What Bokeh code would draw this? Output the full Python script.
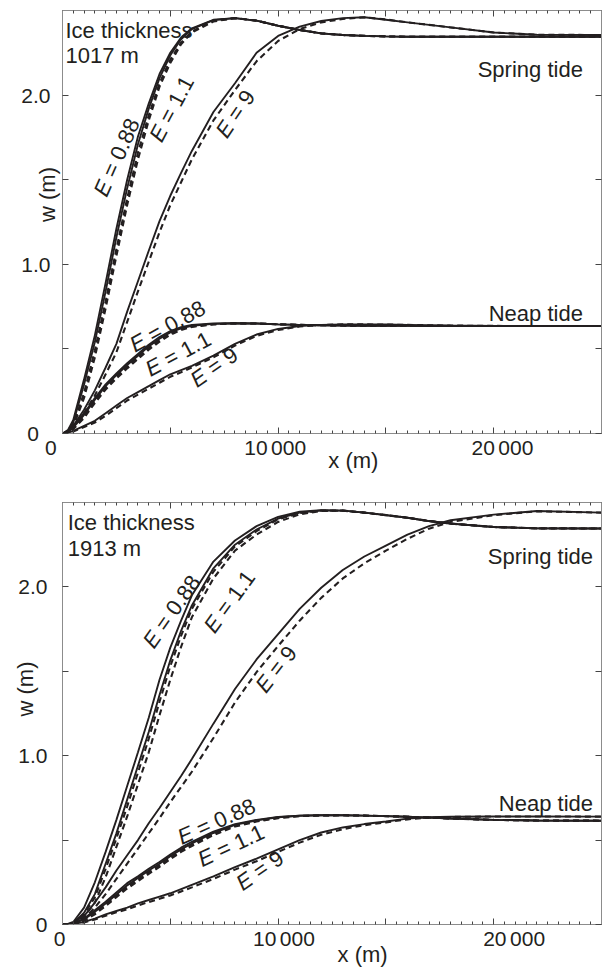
import math
import json
from bokeh.plotting import figure
from bokeh.layouts import column
from bokeh.models import FixedTicker, CustomJSTickFormatter, LinearAxis, Range1d
from bokeh.core.properties import value
from bokeh.embed import file_html
from bokeh.resources import INLINE

# ---------------- data ----------------
X = [0, 250, 500, 1000, 1500, 2000, 2500, 3000, 3500, 4000, 4500, 5000, 5500, 6000,
     7000, 8000, 9000, 10000, 11000, 12000, 13000, 14000, 15000, 16000, 17000, 18000,
     20000, 22000, 25000]

# Ice thickness 1017 m
t_sp_088_s = [0, 0.02, 0.08, 0.32, 0.58, 0.89, 1.21, 1.50, 1.755, 1.95, 2.125, 2.25, 2.34, 2.395, 2.445, 2.455, 2.44, 2.41, 2.385, 2.365, 2.355, 2.35, 2.347, 2.345, 2.345, 2.345, 2.345, 2.345, 2.345]
t_sp_11_s = [0, 0.015, 0.065, 0.29, 0.54, 0.84, 1.16, 1.45, 1.71, 1.92, 2.10, 2.235, 2.33, 2.39, 2.443, 2.455, 2.44, 2.41, 2.385, 2.365, 2.355, 2.35, 2.347, 2.345, 2.345, 2.345, 2.345, 2.345, 2.345]
t_sp_088_d = [0, 0.01, 0.05, 0.24, 0.49, 0.78, 1.09, 1.39, 1.66, 1.88, 2.07, 2.21, 2.31, 2.375, 2.44, 2.455, 2.44, 2.41, 2.385, 2.365, 2.355, 2.35, 2.347, 2.345, 2.345, 2.345, 2.345, 2.345, 2.345]
t_sp_11_d = [0, 0.008, 0.04, 0.21, 0.45, 0.74, 1.05, 1.35, 1.62, 1.85, 2.05, 2.19, 2.30, 2.37, 2.435, 2.455, 2.44, 2.41, 2.385, 2.365, 2.355, 2.35, 2.347, 2.345, 2.345, 2.345, 2.345, 2.345, 2.345]
t_sp_9_s = [0, 0.01, 0.045, 0.14, 0.255, 0.39, 0.53, 0.72, 0.9, 1.08, 1.255, 1.405, 1.54, 1.67, 1.90, 2.07, 2.25, 2.35, 2.405, 2.438, 2.455, 2.46, 2.445, 2.43, 2.415, 2.40, 2.37, 2.357, 2.355]
t_sp_9_d = [0, 0.007, 0.035, 0.12, 0.225, 0.35, 0.48, 0.66, 0.84, 1.015, 1.19, 1.35, 1.485, 1.62, 1.85, 2.03, 2.20, 2.32, 2.39, 2.43, 2.45, 2.46, 2.447, 2.43, 2.415, 2.40, 2.37, 2.357, 2.355]
t_np_088_s = [0, 0.01, 0.04, 0.12, 0.21, 0.29, 0.355, 0.415, 0.47, 0.525, 0.57, 0.605, 0.628, 0.641, 0.65, 0.652, 0.65, 0.645, 0.642, 0.64, 0.638, 0.637, 0.636, 0.636, 0.635, 0.635, 0.635, 0.635, 0.635]
t_np_11_s = [0, 0.008, 0.035, 0.11, 0.2, 0.28, 0.345, 0.405, 0.46, 0.515, 0.56, 0.597, 0.622, 0.637, 0.648, 0.652, 0.65, 0.645, 0.642, 0.64, 0.638, 0.637, 0.636, 0.636, 0.635, 0.635, 0.635, 0.635, 0.635]
t_np_088_d = [0, 0.006, 0.03, 0.10, 0.19, 0.27, 0.335, 0.395, 0.45, 0.505, 0.552, 0.59, 0.617, 0.633, 0.646, 0.651, 0.65, 0.645, 0.642, 0.64, 0.638, 0.637, 0.636, 0.636, 0.635, 0.635, 0.635, 0.635, 0.635]
t_np_11_d = [0, 0.005, 0.026, 0.092, 0.18, 0.26, 0.325, 0.385, 0.44, 0.495, 0.543, 0.583, 0.612, 0.63, 0.645, 0.651, 0.65, 0.645, 0.642, 0.64, 0.638, 0.637, 0.636, 0.636, 0.635, 0.635, 0.635, 0.635, 0.635]
t_np_9_s = [0, 0.004, 0.015, 0.045, 0.075, 0.12, 0.165, 0.21, 0.245, 0.28, 0.315, 0.35, 0.375, 0.40, 0.46, 0.53, 0.585, 0.618, 0.635, 0.642, 0.645, 0.645, 0.644, 0.642, 0.64, 0.638, 0.636, 0.635, 0.635]
t_np_9_d = [0, 0.003, 0.012, 0.038, 0.065, 0.105, 0.15, 0.195, 0.23, 0.265, 0.30, 0.335, 0.362, 0.39, 0.45, 0.52, 0.577, 0.612, 0.632, 0.641, 0.645, 0.645, 0.644, 0.642, 0.64, 0.638, 0.636, 0.635, 0.635]

# Ice thickness 1913 m
b_sp_088_s = [0, 0.003, 0.015, 0.1, 0.25, 0.43, 0.62, 0.82, 1.02, 1.225, 1.45, 1.64, 1.8, 1.95, 2.15, 2.275, 2.36, 2.415, 2.445, 2.455, 2.452, 2.44, 2.425, 2.41, 2.39, 2.375, 2.355, 2.347, 2.346]
b_sp_11_s = [0, 0.001, 0.008, 0.07, 0.18, 0.36, 0.54, 0.74, 0.94, 1.14, 1.36, 1.565, 1.74, 1.89, 2.11, 2.25, 2.34, 2.405, 2.44, 2.453, 2.452, 2.44, 2.425, 2.41, 2.39, 2.375, 2.355, 2.347, 2.346]
b_sp_088_d = [0, 0.0, 0.005, 0.06, 0.16, 0.33, 0.51, 0.70, 0.90, 1.1, 1.32, 1.53, 1.71, 1.87, 2.09, 2.24, 2.33, 2.40, 2.437, 2.452, 2.452, 2.44, 2.425, 2.41, 2.39, 2.375, 2.355, 2.347, 2.346]
b_sp_11_d = [0, 0.0, 0.003, 0.045, 0.13, 0.28, 0.46, 0.64, 0.83, 1.02, 1.24, 1.45, 1.645, 1.82, 2.05, 2.215, 2.31, 2.385, 2.43, 2.45, 2.452, 2.44, 2.425, 2.41, 2.39, 2.375, 2.355, 2.347, 2.346]
b_sp_9_s = [0, 0.002, 0.01, 0.05, 0.13, 0.22, 0.32, 0.41, 0.5, 0.6, 0.69, 0.785, 0.88, 0.98, 1.19, 1.395, 1.57, 1.72, 1.87, 1.995, 2.10, 2.18, 2.245, 2.31, 2.36, 2.395, 2.428, 2.45, 2.44]
b_sp_9_d = [0, 0.001, 0.006, 0.035, 0.10, 0.18, 0.27, 0.36, 0.45, 0.54, 0.63, 0.725, 0.815, 0.905, 1.105, 1.315, 1.495, 1.65, 1.80, 1.935, 2.05, 2.14, 2.215, 2.285, 2.345, 2.385, 2.425, 2.448, 2.44]
b_np_088_s = [0, 0.001, 0.006, 0.035, 0.085, 0.135, 0.19, 0.245, 0.285, 0.33, 0.37, 0.415, 0.455, 0.49, 0.55, 0.595, 0.62, 0.637, 0.645, 0.647, 0.647, 0.645, 0.642, 0.638, 0.633, 0.628, 0.62, 0.616, 0.615]
b_np_11_s = [0, 0.001, 0.005, 0.03, 0.075, 0.125, 0.178, 0.232, 0.275, 0.32, 0.36, 0.405, 0.445, 0.48, 0.542, 0.59, 0.617, 0.635, 0.644, 0.647, 0.647, 0.645, 0.642, 0.638, 0.633, 0.628, 0.62, 0.616, 0.615]
b_np_088_d = [0, 0.0, 0.004, 0.026, 0.068, 0.118, 0.17, 0.222, 0.265, 0.31, 0.35, 0.395, 0.437, 0.472, 0.536, 0.585, 0.614, 0.633, 0.643, 0.646, 0.647, 0.645, 0.642, 0.638, 0.633, 0.628, 0.62, 0.616, 0.615]
b_np_11_d = [0, 0.0, 0.003, 0.022, 0.06, 0.11, 0.162, 0.213, 0.257, 0.30, 0.342, 0.387, 0.43, 0.465, 0.53, 0.58, 0.61, 0.63, 0.642, 0.646, 0.647, 0.645, 0.642, 0.638, 0.633, 0.628, 0.62, 0.616, 0.615]
b_np_9_s = [0, 0.001, 0.004, 0.015, 0.035, 0.06, 0.08, 0.1, 0.125, 0.145, 0.165, 0.185, 0.21, 0.235, 0.285, 0.34, 0.39, 0.445, 0.50, 0.545, 0.575, 0.595, 0.61, 0.627, 0.635, 0.638, 0.64, 0.64, 0.639]
b_np_9_d = [0, 0.0, 0.003, 0.012, 0.03, 0.052, 0.072, 0.09, 0.113, 0.133, 0.152, 0.172, 0.196, 0.22, 0.27, 0.325, 0.375, 0.43, 0.485, 0.532, 0.565, 0.588, 0.605, 0.623, 0.633, 0.637, 0.64, 0.64, 0.639]

X_MAJOR = [0, 5000, 10000, 15000, 20000, 25000]
X_MINOR = [500 * i for i in range(1, 50) if i % 10 != 0]
Y_MAJOR = [0, 0.5, 1.0, 1.5, 2.0]
X_TICK_TEXT = {0: "0", 10000: "10\u2006000", 20000: "20\u2006000"}

FONT = "Liberation Sans"
INK = "#231f20"
FRAME = "#8c8c8c"
FS = "\u2007"   # figure space (digit wide)
PS = "\u2008"   # punctuation space

CW = {"E": 0.667, " ": 0.278, "=": 0.584, ".": 0.278}


def tw(s, fs):
    return sum(CW.get(c, 0.556) for c in s) * fs


def elabel(p, x, y, num, deg, fs=22):
    th = math.radians(deg)
    a = tw("E", fs)
    sp = tw(" ", fs)
    rest = "= " + num
    r = tw(rest, fs)
    L = a + sp + r
    dA = -L / 2 + a / 2
    dR = L / 2 - r / 2
    c, s = math.cos(th), math.sin(th)
    common = dict(angle=th, text_align="center", text_baseline="middle",
                  text_font=value(FONT), text_font_size=f"{fs}px", text_color=INK)
    p.text(x=[x], y=[y], text=["E"], x_offset=dA * c, y_offset=-dA * s,
           text_font_style="italic", **common)
    p.text(x=[x], y=[y], text=[rest], x_offset=dR * c, y_offset=-dR * s, **common)


def ytick_fmt(zero):
    return CustomJSTickFormatter(code="""
        if (Math.abs(tick) < 1e-9) return '%s';
        if (Math.abs(tick - Math.round(tick)) < 1e-9) return tick.toFixed(1);
        return '';""" % zero)


def xtick_fmt(pads):
    # pads: (leading, trailing) padding per labelled tick, to nudge labels like the original
    m = {str(k): pads[k][0] + t + pads[k][1] for k, t in X_TICK_TEXT.items()}
    return CustomJSTickFormatter(code="""
        const m = %s;
        const k = String(Math.round(tick));
        return (k in m) ? m[k] : '';""" % json.dumps(m))


def style_axis(ax, label_size="21px", standoff=2):
    ax.axis_line_color = FRAME
    ax.major_tick_line_color = "#444444"
    ax.minor_tick_line_color = "#444444"
    ax.major_tick_in = 6
    ax.major_tick_out = 0
    ax.minor_tick_in = 3
    ax.minor_tick_out = 0
    ax.major_label_text_font = FONT
    ax.major_label_text_font_size = label_size
    ax.major_label_text_color = INK
    ax.major_label_standoff = standoff


def panel(width, height, borders, curves, elabels, texts, ystand, yzero, xpads, xlab, ylab):
    p = figure(width=width, height=height, x_range=Range1d(0, 25000), y_range=Range1d(0, 2.5),
               output_backend="svg", toolbar_location=None,
               x_axis_type=None, y_axis_type=None,
               min_border_left=borders[0], min_border_right=borders[1],
               min_border_top=borders[2], min_border_bottom=borders[3])
    p.grid.visible = False
    p.outline_line_color = FRAME
    p.background_fill_color = "white"
    p.border_fill_color = "white"

    xt = FixedTicker(ticks=X_MAJOR, minor_ticks=X_MINOR)
    yt = FixedTicker(ticks=Y_MAJOR)

    bx = LinearAxis(ticker=xt, formatter=xtick_fmt(xpads))
    style_axis(bx, standoff=2)
    bx.axis_label = xlab[0]
    bx.axis_label_standoff = xlab[1]
    bx.axis_label_text_font = FONT
    bx.axis_label_text_font_size = "22px"
    bx.axis_label_text_font_style = "normal"
    bx.axis_label_text_color = INK
    p.add_layout(bx, "below")

    ly = LinearAxis(ticker=yt, formatter=ytick_fmt(yzero))
    style_axis(ly, standoff=ystand)
    ly.minor_tick_in = 0
    ly.axis_label = ylab[0]
    ly.axis_label_standoff = ylab[1]
    ly.axis_label_text_font = FONT
    ly.axis_label_text_font_size = "22px"
    ly.axis_label_text_font_style = "normal"
    ly.axis_label_text_color = INK
    p.add_layout(ly, "left")

    tx = LinearAxis(ticker=xt, formatter=CustomJSTickFormatter(code="return '';"))
    style_axis(tx, label_size="1px", standoff=0)
    p.add_layout(tx, "above")
    ry = LinearAxis(ticker=yt, formatter=CustomJSTickFormatter(code="return '';"))
    style_axis(ry, label_size="1px", standoff=0)
    ry.minor_tick_in = 0
    p.add_layout(ry, "right")

    for ys, dashed in curves:
        if dashed:
            p.line(X, ys, line_color=INK, line_width=2.1, line_dash="6 4")
        else:
            p.line(X, ys, line_color=INK, line_width=1.9)

    for (x, y, num, deg) in elabels:
        elabel(p, x, y, num, deg)

    for (x, y, t, align) in texts:
        p.text(x=[x], y=[y], text=[t], text_align=align, text_baseline="alphabetic",
               text_font=value(FONT), text_font_size="22px", text_color=INK)
    return p


top_curves = [(t_sp_088_s, False), (t_sp_11_s, False), (t_sp_088_d, True), (t_sp_11_d, True),
              (t_sp_9_s, False), (t_sp_9_d, True),
              (t_np_088_s, False), (t_np_11_s, False), (t_np_088_d, True), (t_np_11_d, True),
              (t_np_9_s, False), (t_np_9_d, True)]
bot_curves = [(b_sp_088_s, False), (b_sp_11_s, False), (b_sp_088_d, True), (b_sp_11_d, True),
              (b_sp_9_s, False), (b_sp_9_d, True),
              (b_np_088_s, False), (b_np_11_s, False), (b_np_088_d, True), (b_np_11_d, True),
              (b_np_9_s, False), (b_np_9_d, True)]

top_elabels = [(2514, 1.633, "0.88", 66), (5061, 1.919, "1.1", 62), (8015, 1.889, "9", 56),
               (4864, 0.634, "0.88", 29), (5364, 0.471, "1.1", 28), (7030, 0.392, "9", 35)]
bot_elabels = [(5060, 1.854, "0.88", 55), (7742, 1.913, "1.1", 54), (9909, 1.513, "9", 52),
               (7136, 0.611, "0.88", 24), (7818, 0.467, "1.1", 25), (9152, 0.32, "9", 35)]

top_texts = [(136, 2.382, "Ice thickness", "left"), (136, 2.234, "1017 m", "left"),
             (24136, 2.151, "Spring tide", "right"), (24136, 0.707, "Neap tide", "right")]
bot_texts = [(240, 2.380, "Ice thickness", "left"), (240, 2.229, "1913 m", "left"),
             (24605, 2.178, "Spring tide", "right"), (24605, 0.718, "Neap tide", "right")]

top_pads = {0: ("", FS + FS), 10000: ("", PS), 20000: (FS + PS, "")}
bot_pads = {0: ("", PS), 10000: (FS, ""), 20000: (FS * 3 + PS, "")}

p1 = panel(611, 488, (62, 0, 10, 55), top_curves, top_elabels, top_texts, 12,
           "0" + FS, top_pads,
           (FS * 3 + PS + "x (m)", -14), (FS * 4 + PS + "w (m)", -42))
p2 = panel(611, 484, (52, 10, 14, 48), bot_curves, bot_elabels, bot_texts, 15,
           "0", bot_pads,
           (FS * 5 + "x (m)", -11), (FS * 4 + "w (m)", -23))

layout = column(p1, p2)
open("out.html", "w").write(file_html(layout, INLINE))
